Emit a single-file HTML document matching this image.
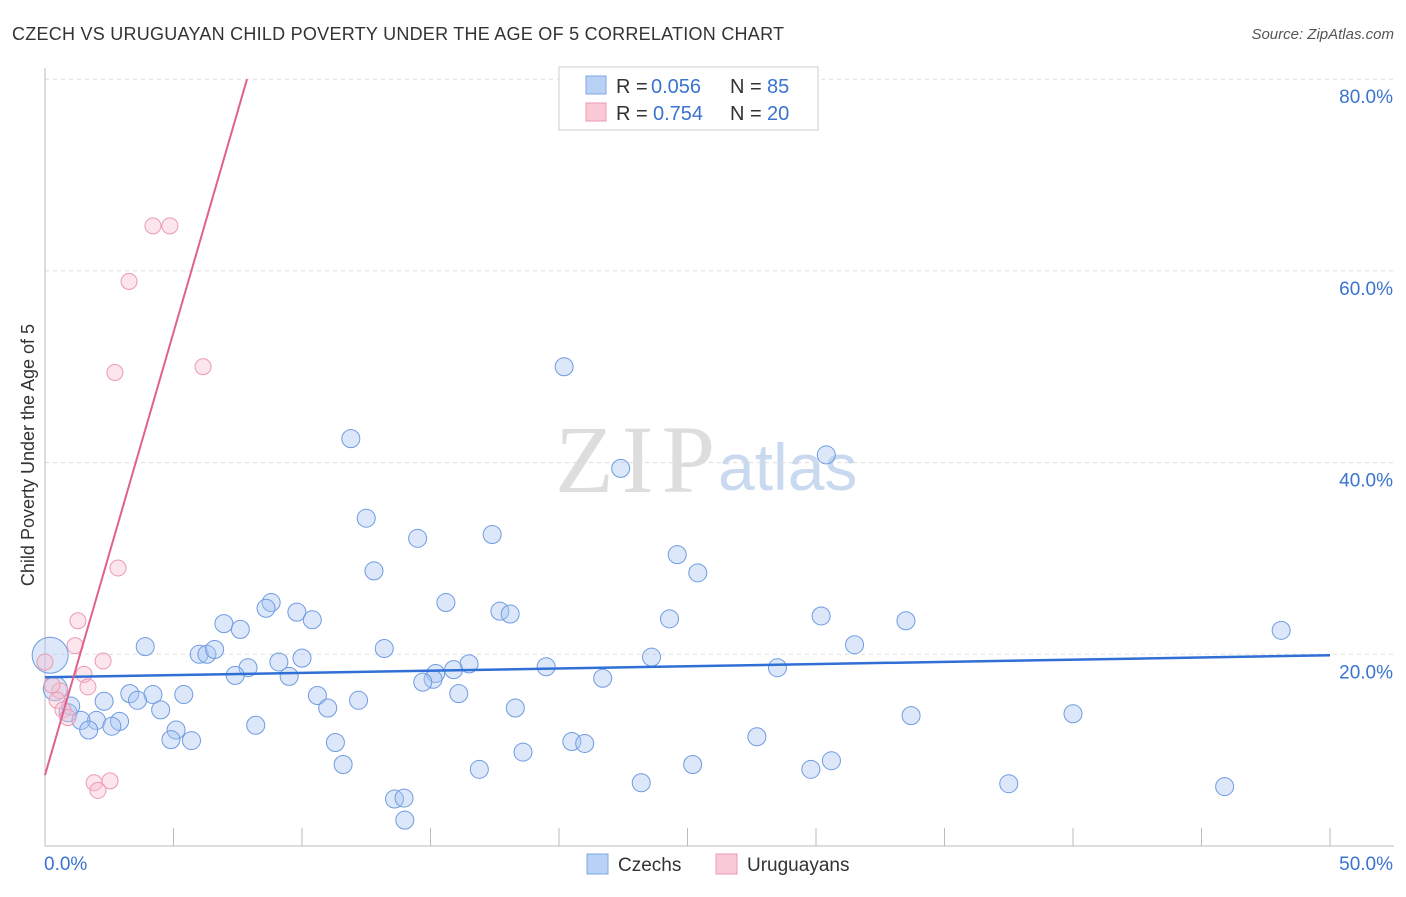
<!DOCTYPE html>
<html><head><meta charset="utf-8"><style>
body{margin:0;background:#fff;font-family:"Liberation Sans",sans-serif;}
</style></head><body>
<svg id="chart" width="1406" height="892" font-family="Liberation Sans, sans-serif">
<text x="12" y="40" font-size="18" fill="#333" textLength="772">CZECH VS URUGUAYAN CHILD POVERTY UNDER THE AGE OF 5 CORRELATION CHART</text>
<text x="1394" y="39" font-size="15" fill="#555" text-anchor="end" font-style="italic">Source: ZipAtlas.com</text>
<text x="555" y="492" font-size="96" fill="#ddd" style="font-family:'Liberation Serif',serif" textLength="160">ZIP</text>
<text x="718" y="490" font-size="66" fill="#c9d9f0">atlas</text>
<g id="grid"></g>
<g id="axes"></g>
<g id="marks"></g>
<text transform="translate(34,455) rotate(-90)" font-size="18" fill="#333" text-anchor="middle">Child Poverty Under the Age of 5</text>
<g>
<rect x="559" y="67" width="259" height="63" fill="#fff" stroke="#ccc"/>
<rect x="586" y="76" width="20" height="18" fill="#b8d1f5" stroke="#7fa7e3"/>
<text x="616" y="93" font-size="20" fill="#333">R =</text>
<text x="651" y="93" font-size="20" fill="#3a73d0">0.056</text>
<text x="730" y="93" font-size="20" fill="#333">N =</text>
<text x="767" y="93" font-size="20" fill="#3a73d0">85</text>
<rect x="586" y="103" width="20" height="18" fill="#f9c9d6" stroke="#ee9ab1"/>
<text x="616" y="120" font-size="20" fill="#333">R =</text>
<text x="653" y="120" font-size="20" fill="#3a73d0">0.754</text>
<text x="730" y="120" font-size="20" fill="#333">N =</text>
<text x="767" y="120" font-size="20" fill="#3a73d0">20</text>
</g>
<g>
<rect x="587" y="854" width="21" height="20" fill="#b8d1f5" stroke="#7fa7e3"/>
<text x="618" y="871" font-size="19" fill="#333">Czechs</text>
<rect x="716" y="854" width="21" height="20" fill="#f9c9d6" stroke="#ee9ab1"/>
<text x="747" y="871" font-size="19" fill="#333">Uruguayans</text>
</g>
</svg>
<script>
const czechX=[20.2,11.9,30.4,22.4,12.5,14.5,17.4,24.6,12.8,25.4,15.6,8.8,8.6,9.8,10.4,17.7,18.1,24.3,30.2,33.5,48.1,6.96,7.6,3.9,13.2,31.5,6.0,6.3,6.6,23.6,10.0,9.1,7.9,16.5,15.9,19.5,28.5,15.2,7.4,9.5,15.1,14.7,21.7,3.3,4.2,5.4,3.6,2.3,10.6,12.2,16.1,18.3,11.0,4.5,33.7,40.0,0.9,2.0,2.9,1.4,2.6,1.7,5.1,8.2,4.9,5.7,11.3,20.5,21.0,27.7,18.6,11.6,16.9,25.2,30.6,29.8,23.2,37.5,45.9,13.6,13.97,14.0,0.2,0.4,1.0];
const czechY=[50.0,42.5,40.8,39.4,34.2,32.1,32.5,30.4,28.7,28.5,25.4,25.4,24.8,24.4,23.6,24.5,24.2,23.7,24.0,23.5,22.5,23.2,22.6,20.8,20.6,21.0,20.0,20.0,20.5,19.7,19.6,19.2,18.6,19.0,18.4,18.7,18.6,18.0,17.8,17.7,17.4,17.1,17.5,15.9,15.8,15.8,15.2,15.1,15.7,15.2,15.9,14.4,14.4,14.2,13.6,13.8,13.9,13.1,13.0,13.1,12.5,12.1,12.1,12.6,11.1,11.0,10.8,10.9,10.7,11.4,9.8,8.5,8.0,8.5,8.9,8.0,6.6,6.5,6.2,4.9,5.0,2.7,19.9,16.4,14.6];
const czechR=[9,9,9,9,9,9,9,9,9,9,9,9,9,9,9,9,9,9,9,9,9,9,9,9,9,9,9,9,9,9,9,9,9,9,9,9,9,9,9,9,9,9,9,9,9,9,9,9,9,9,9,9,9,9,9,9,9,9,9,9,9,9,9,9,9,9,9,9,9,9,9,9,9,9,9,9,9,9,9,9,9,9,18,12,9];
const uruX=[4.2,4.86,3.27,2.72,6.15,2.84,1.28,1.17,2.26,1.52,1.67,0.0,0.58,0.47,0.7,0.89,1.91,2.53,2.06,0.27];
const uruY=[64.7,64.7,58.9,49.4,50.0,29.0,23.5,20.9,19.3,17.9,16.6,19.2,16.2,15.2,14.2,13.4,6.6,6.8,5.8,16.8];
const yTicks=[20,40,60,80];
const xTickLabels=["0.0%","50.0%"];
const blueTrend=[[0,17.6],[50,19.9]];
const pinkTrend=[[0,7.4],[7.86,80]];
const X=v=>45+v*25.7, Y=v=>846-v*9.585;
const NS="http://www.w3.org/2000/svg";
function mk(t,a,p){const e=document.createElementNS(NS,t);for(const k in a)e.setAttribute(k,a[k]);p.appendChild(e);return e;}
const grid=document.getElementById('grid'),axes=document.getElementById('axes'),marks=document.getElementById('marks');
yTicks.forEach(v=>{
 const l=mk('line',{x1:45,x2:1394,y1:Y(v),y2:Y(v),stroke:'#ddd','stroke-dasharray':'4,4'},grid);
 
 
 const t=mk('text',{x:1393,y:Y(v)+24,'font-size':19,fill:'#3a73d0','text-anchor':'end'},axes);
 t.textContent=v.toFixed(1)+'%';
 
 
});
mk('line',{x1:45,x2:45,y1:68,y2:846,stroke:'#bbb'},axes);
mk('line',{x1:45,x2:1394,y1:846,y2:846,stroke:'#bbb'},axes);
for(let i=0;i<=10;i++){const l=mk('line',{x1:X(i*5),x2:X(i*5),y1:828,y2:846,stroke:'#bbb'},axes);
 
 }
[[X(0)-1,'start',xTickLabels[0]],[1393,'end',xTickLabels[1]]].forEach(d=>{const t=mk('text',{x:d[0],y:870,'font-size':19,fill:'#3a73d0','text-anchor':d[1]},axes);t.textContent=d[2];
 
 });
czechX.forEach((x,i)=>{const c=mk('circle',{cx:X(x),cy:Y(czechY[i]),r:czechR[i],fill:'rgba(168,198,242,0.4)',stroke:'#6f9be0','stroke-width':1},marks);
 
 });
uruX.forEach((x,i)=>{const c=mk('circle',{cx:X(x),cy:Y(uruY[i]),r:8,fill:'rgba(248,190,208,0.4)',stroke:'#eb9ab2','stroke-width':1},marks);
 
 });
const b=mk('line',{x1:X(blueTrend[0][0]),y1:Y(blueTrend[0][1]),x2:X(blueTrend[1][0]),y2:Y(blueTrend[1][1]),stroke:'#2f6fd6','stroke-width':2.5},marks);


const p=mk('line',{x1:X(pinkTrend[0][0]),y1:Y(pinkTrend[0][1]),x2:X(pinkTrend[1][0]),y2:Y(pinkTrend[1][1]),stroke:'#e0618e','stroke-width':2},marks);


</script>
</body></html>
